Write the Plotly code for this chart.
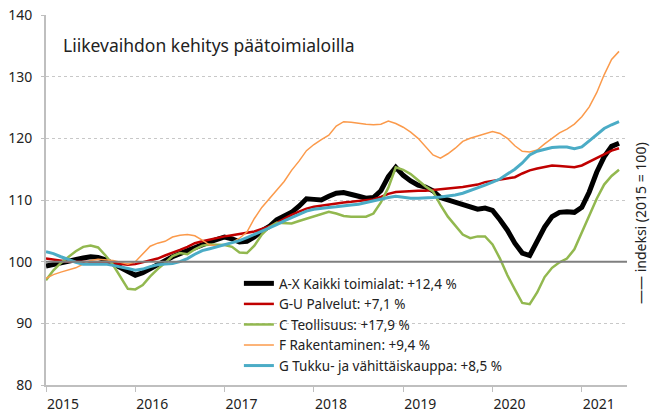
import plotly.graph_objects as go

# Monthly index values, Jan 2015 .. Jun 2021 (2015 = 100)
start_year = 2015
n_months = 78

ax_total = [99.3, 99.6, 99.9, 100.2, 100.4, 100.6, 100.8, 100.7, 100.3, 99.7, 99.0, 98.3,
            97.8, 98.2, 98.9, 99.6, 100.3, 100.8, 101.3, 101.8, 102.4, 102.9, 103.2, 103.6,
            104.0, 103.7, 103.2, 103.3, 104.0, 105.0, 105.7, 106.8, 107.5, 108.0, 109.0, 110.2,
            110.1, 110.0, 110.6, 111.1, 111.2, 111.0, 110.6, 110.3, 110.4, 111.5, 113.8, 115.3,
            114.0, 113.1, 112.4, 112.1, 111.5, 110.4, 110.0, 109.7, 109.3, 108.9, 108.5, 108.7,
            108.3, 106.8, 105.1, 103.0, 101.4, 101.0, 103.2, 105.6, 107.3, 108.0, 108.1, 108.0,
            108.8, 111.3, 114.5, 117.0, 118.7, 119.2]

gu_services = [100.5, 100.3, 100.1, 100.0, 100.0, 100.0, 100.0, 100.0, 99.9, 99.8, 99.6, 99.5,
               99.6, 99.9, 100.1, 100.5, 101.0, 101.4, 101.9, 102.4, 103.0, 103.3, 103.6, 103.9,
               104.1, 104.3, 104.5, 104.7, 104.9, 105.3, 105.7, 106.3, 107.0, 107.6, 108.1, 108.6,
               108.9, 109.1, 109.3, 109.5, 109.6, 109.7, 109.8, 109.9, 110.1, 110.5, 111.0, 111.3,
               111.4, 111.4, 111.5, 111.5, 111.6, 111.8, 111.9, 111.9, 112.1, 112.3, 112.5, 112.9,
               113.1, 113.2, 113.4, 113.7, 114.3, 114.8, 115.1, 115.4, 115.6, 115.5, 115.4, 115.3,
               115.6, 116.2, 116.9, 117.5, 118.0, 118.4]

c_industry = [97.0, 98.6, 99.8, 100.8, 101.7, 102.4, 102.6, 102.3, 101.0, 99.5, 97.5, 95.6,
              95.5, 96.2, 97.6, 98.8, 99.8, 100.9, 101.4, 101.2, 102.0, 102.6, 102.8, 102.8,
              102.7, 102.4, 101.5, 101.4, 102.6, 104.4, 105.6, 106.3, 106.2, 106.2, 106.6, 107.0,
              107.3, 107.7, 108.1, 107.8, 107.4, 107.3, 107.3, 107.3, 107.8, 109.6, 112.0, 115.3,
              114.9, 114.2, 113.2, 112.2, 111.4, 109.2, 107.3, 105.8, 104.4, 103.8, 104.1, 104.1,
              102.8, 100.5, 97.8, 95.5, 93.3, 93.1, 95.0, 97.5, 99.0, 99.9, 100.5, 102.0,
              104.7, 107.6, 110.2, 112.5, 113.9, 114.9]

f_construction = [97.3, 97.9, 98.3, 98.6, 99.0, 99.6, 100.2, 100.4, 100.3, 100.2, 99.9, 99.6,
                  100.0, 101.3, 102.5, 103.0, 103.3, 104.0, 104.3, 104.4, 104.2, 103.5, 102.7, 102.6,
                  102.7, 103.1, 103.8, 104.8, 107.0, 108.8, 110.2, 111.6, 113.0, 114.8, 116.3, 118.0,
                  119.0, 119.8, 120.5, 122.0, 122.7, 122.6, 122.4, 122.3, 122.2, 122.3, 122.8, 122.4,
                  121.8, 121.0, 120.0, 118.6, 117.3, 116.8, 117.5, 118.4, 119.5, 120.0, 120.4, 120.8,
                  121.1, 120.8, 120.0, 118.8, 117.9, 117.8, 118.1, 119.1, 120.0, 120.9, 121.5, 122.3,
                  123.5, 125.1, 127.4, 130.3, 132.8, 134.1]

g_trade = [101.6, 101.3, 100.8, 100.3, 99.9, 99.6, 99.6, 99.7, 99.6, 99.4, 99.2, 98.9,
           98.6, 98.8, 99.2, 99.5, 99.6, 99.7, 100.0, 100.5, 101.2, 101.8, 102.1, 102.4,
           102.7, 103.0, 103.4, 103.9, 104.4, 104.9, 105.4, 106.0, 106.6, 107.1, 107.6, 108.2,
           108.5, 108.7, 108.8, 108.9, 109.1, 109.2, 109.3, 109.6, 109.9, 110.2, 110.4, 110.6,
           110.4, 110.3, 110.3, 110.3, 110.4, 110.5, 110.6, 110.8, 111.1, 111.5, 111.9, 112.4,
           112.9, 113.4, 114.2, 115.0, 116.0, 117.3, 117.9, 118.2, 118.5, 118.6, 118.6, 118.3,
           118.6, 119.6, 120.6, 121.6, 122.2, 122.7]

series_names = ["A-X Kaikki toimialat: +12,4 %", "G-U Palvelut: +7,1 %", "C Teollisuus: +17,9 %",
                "F Rakentaminen: +9,4 %", "G Tukku- ja vähittäiskauppa: +8,5 %"]
year_ticks = [2015, 2016, 2017, 2018, 2019, 2020, 2021]
y_ticks = [80, 90, 100, 110, 120, 130, 140]

x = [start_year + i / 12 for i in range(n_months)]

styles = [("#000000", 5), ("#c00000", 2.5), ("#92b84f", 2.5), ("#fb9a4b", 1.5), ("#4bacc6", 3)]
data = [ax_total, gu_services, c_industry, f_construction, g_trade]

FONT = "Noto Sans"
fig = go.Figure()
for name, vals, (col, w) in zip(series_names, data, styles):
    fig.add_trace(go.Scatter(x=x, y=vals, name=name, mode="lines",
                             line=dict(color=col, width=w)))

fig.add_shape(type="line", xref="paper", x0=0, x1=1, yref="y", y0=100, y1=100,
              line=dict(color="#7f7f7f", width=2), layer="above")

fig.update_layout(
    width=653, height=412,
    margin=dict(l=46, r=26, t=15, b=27, autoexpand=False),
    paper_bgcolor="white", plot_bgcolor="white",
    font=dict(family=FONT, size=14, color="#222222"),
    showlegend=True,
    legend=dict(x=0.332, y=0.316, xanchor="left", yanchor="top",
                bgcolor="rgba(0,0,0,0)", font=dict(size=13.5, color="#222222"),
                itemwidth=30, tracegroupgap=0),
    xaxis=dict(range=[2015, 2021.506], tickvals=year_ticks,
               ticktext=[str(t) for t in year_ticks],
               showgrid=False, zeroline=False, automargin=False,
               showline=True, linecolor="#bfbfbf", linewidth=2,
               ticks="outside", ticklen=5, tickcolor="#bfbfbf", tickwidth=1,
               ticklabelshift=17, tickfont=dict(size=14)),
    yaxis=dict(range=[80, 140], tickvals=y_ticks, showgrid=True,
               gridcolor="#c8c8c8", griddash="dot", gridwidth=1,
               zeroline=False, automargin=False,
               showline=True, linecolor="#bfbfbf", linewidth=2,
               ticks="outside", ticklen=3, tickcolor="#bfbfbf",
               ticklabelstandoff=6, tickfont=dict(size=14)),
)

fig.add_annotation(text="Liikevaihdon kehitys päätoimialoilla", xref="paper", yref="paper",
                   x=(61 - 46) / 581, y=(385 - 45) / 370, xanchor="left", yanchor="middle",
                   showarrow=False, font=dict(size=17.5, color="#222222"))
fig.add_annotation(text="—— indeksi (2015 = 100)", xref="paper", yref="paper",
                   x=(640 - 46) / 581, y=(385 - 223) / 370, xanchor="center", yanchor="middle",
                   textangle=-90, showarrow=False, font=dict(size=14, color="#222222"))

fig.write_html("out.html")
